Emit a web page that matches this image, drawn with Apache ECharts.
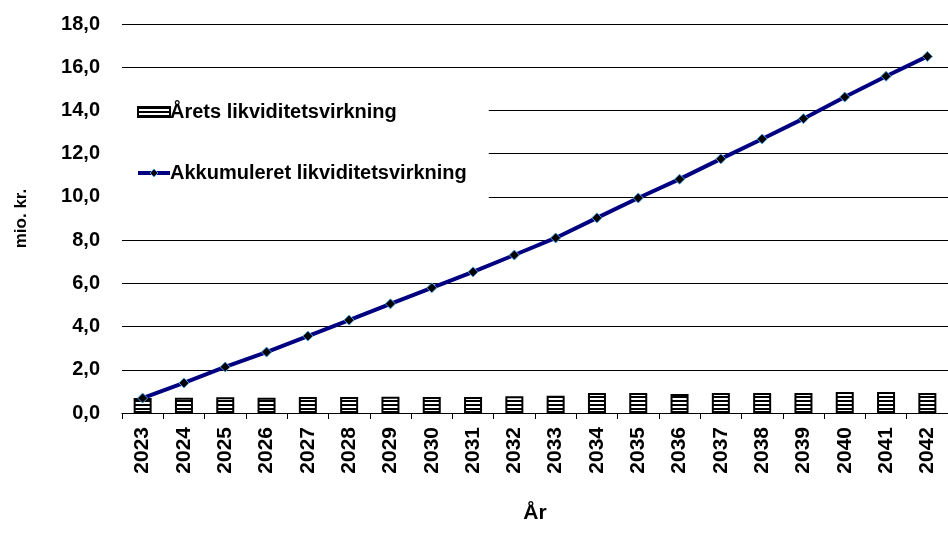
<!DOCTYPE html>
<html>
<head>
<meta charset="utf-8">
<script src="https://cdn.jsdelivr.net/npm/echarts@6/dist/echarts.min.js"></script>
<style>
  html, body { margin: 0; padding: 0; background: #fff; }
  #chart { width: 948px; height: 538px; }
</style>
</head>
<body>
<div id="chart"></div>
<script>
// data
const years = ["2023", "2024", "2025", "2026", "2027", "2028", "2029", "2030", "2031", "2032",
  "2033", "2034", "2035", "2036", "2037", "2038", "2039", "2040", "2041", "2042"]
const aarets = [0.69, 0.70, 0.73, 0.70, 0.74, 0.74, 0.75, 0.74, 0.74, 0.78,
  0.80, 0.93, 0.92, 0.88, 0.93, 0.93, 0.93, 0.97, 0.97, 0.93]
const akkumuleret = [0.69, 1.39, 2.13, 2.82, 3.56, 4.30, 5.05, 5.79, 6.53, 7.31,
  8.10, 9.03, 9.95, 10.82, 11.76, 12.68, 13.62, 14.62, 15.58, 16.50]

const font = "Liberation Sans, Arial, sans-serif"

// stripe pattern for the bars
function stripes() {
  let c = document.createElement("canvas")
  c.width = 8
  c.height = 4
  let ctx = c.getContext("2d")
  ctx.fillStyle = "#ffffff"
  ctx.fillRect(0, 0, 8, 4)
  ctx.fillStyle = "#000000"
  ctx.fillRect(0, 0, 8, 2)
  return c
}

let chart = echarts.init(document.getElementById("chart"), null, { renderer: "canvas" })
let option = {
  animation: false,
  backgroundColor: "#ffffff",
  textStyle: { fontFamily: font },
  grid: { left: 122, top: 24, bottom: 125, width: 834, containLabel: false },
  legend: {
    orient: "vertical",
    left: 122,
    top: 78,
    padding: [24, 22, 20, 14],
    itemGap: 41,
    itemWidth: 32,
    itemHeight: 10,
    backgroundColor: "#ffffff",
    textStyle: { fontFamily: font, fontWeight: "bold", fontSize: 20, color: "#000", padding: [0, 0, 0, -5] },
    data: [
      { name: "Årets likviditetsvirkning", icon: "rect" },
      {
        name: "Akkumuleret likviditetsvirkning",
        lineStyle: { color: "#000080", width: 4 },
        itemStyle: { color: "#000000", borderColor: "#4a9fe0", borderWidth: 1 }
      }
    ],
    z: 10
  },
  xAxis: {
    type: "category",
    data: years,
    name: "År",
    nameLocation: "middle",
    nameGap: 90,
    nameTextStyle: { fontFamily: font, fontWeight: "bold", fontSize: 21, color: "#000" },
    axisLine: { lineStyle: { color: "#000", width: 1 } },
    axisTick: { show: true, length: 6, lineStyle: { color: "#000" } },
    axisLabel: { rotate: 90, fontFamily: font, fontWeight: "bold", fontSize: 21, color: "#000", margin: 14 },
    splitLine: { show: false }
  },
  yAxis: {
    type: "value",
    min: 0,
    max: 18,
    interval: 2,
    name: "mio. kr.",
    nameLocation: "middle",
    nameRotate: 90,
    nameGap: 92,
    nameTextStyle: { fontFamily: font, fontWeight: "bold", fontSize: 17, color: "#000" },
    axisLine: { show: false },
    axisTick: { show: false },
    axisLabel: {
      fontFamily: font, fontWeight: "bold", fontSize: 20, color: "#000", margin: 22,
      formatter: v => v.toFixed(1).replace(".", ",")
    },
    splitLine: { lineStyle: { color: "#000", width: 1 } }
  },
  series: [
    {
      name: "Årets likviditetsvirkning",
      type: "bar",
      barWidth: 18,
      data: aarets,
      itemStyle: {
        color: { image: stripes(), repeat: "repeat" },
        borderColor: "#000",
        borderWidth: 2
      }
    },
    {
      name: "Akkumuleret likviditetsvirkning",
      type: "line",
      data: akkumuleret,
      symbol: "diamond",
      symbolSize: 10,
      lineStyle: { color: "#000080", width: 4 },
      itemStyle: { color: "#000000", borderColor: "#4a9fe0", borderWidth: 1 },
      z: 5
    }
  ]
}
chart.setOption(option)
</script>
</body>
</html>
